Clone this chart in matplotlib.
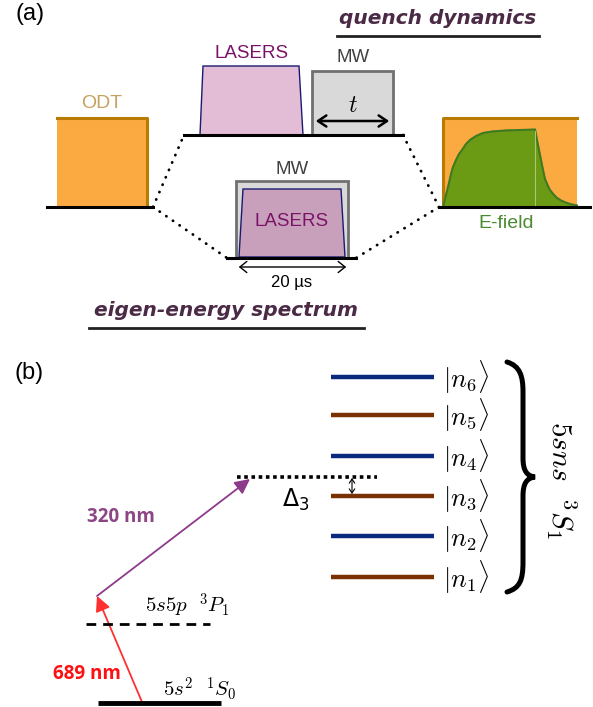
import matplotlib.pyplot as plt
from matplotlib.patches import Polygon, Rectangle, PathPatch, FancyArrowPatch
from matplotlib.path import Path

plt.rcParams['mathtext.fontset'] = 'cm'
plt.rcParams['font.family'] = ['Liberation Sans', 'DejaVu Sans']

# ---- panel (a): pulse sequence (pixel coordinates of the drawing) ----
odt_box = (57, 118, 147, 207)           # x0, y_top, x1, y_base
laser_top = [(200, 135), (203, 66), (299, 66), (303, 135)]
mw_top = (312, 71, 393, 135)
mw_mid = (236, 181, 348, 258)
laser_mid = [(239, 257), (243, 189), (341, 189), (345, 257)]
efield_box = (443, 118, 577, 207)

# E-field ramp (x, y)
efield_x = [443, 445, 447, 449, 451, 453, 456, 459, 462, 466, 470, 476, 483, 492, 505, 520, 535,
            536, 537, 539, 541, 543, 545, 548, 550, 554, 557, 562, 567, 572, 577]
efield_y = [207, 199, 191, 183, 174, 167, 160, 154, 150, 144, 140, 136, 133, 131.5, 130.5, 130, 129.5,
            134, 140, 150, 160, 170, 179, 186, 190, 195, 198, 201, 203, 204.5, 205.5]

baselines = [((47, 153), 207), ((184, 403), 135), ((227, 356), 258), ((439, 590), 207)]
dotted = [((153, 207), (184, 135)), ((153, 207), (227, 258)),
          ((403, 135), (439, 207)), ((439, 207), (356, 258))]

# ---- panel (b): level scheme ----
level_names = ['$|n_1\\rangle$', '$|n_2\\rangle$', '$|n_3\\rangle$',
               '$|n_4\\rangle$', '$|n_5\\rangle$', '$|n_6\\rangle$']
level_y = [577, 536, 496, 456, 415, 377]
level_colors = ['#7A3000', '#0A2A80', '#7A3000', '#0A2A80', '#7A3000', '#0A2A80']
ground_y, p1_y, virt_y = 703, 624, 477

fig = plt.figure(figsize=(5.93, 7.07), dpi=100)
ax = fig.add_axes([0, 0, 1, 1])
ax.set_xlim(0, 593)
ax.set_ylim(707, 0)
ax.axis('off')

orange, orange_edge = '#FBAA42', '#B87A00'
mw_fill, mw_edge = '#D9D9D9', '#707070'
laser_txt = '#7A1368'
title_col = '#4A2A45'

# ODT
x0, yt, x1, yb = odt_box
ax.add_patch(Rectangle((x0, yt), x1 - x0, yb - yt, fc=orange, ec='none', zorder=1))
ax.plot([x0, x1, x1], [yt, yt, yb], color=orange_edge, lw=2.2, zorder=2)
ax.text((x0 + x1) / 2, 103, 'ODT', color='#C8A060', fontsize=14, ha='center', va='center')

# top LASERS + MW
ax.add_patch(Polygon(laser_top, closed=True, fc='#E3BCD6', ec='#1A1A70', lw=1, zorder=2))
ax.text(252, 53, 'LASERS', color=laser_txt, fontsize=13.5, ha='center', va='center')
x0, yt, x1, yb = mw_top
ax.add_patch(Rectangle((x0, yt), x1 - x0, yb - yt, fc=mw_fill, ec=mw_edge, lw=2, zorder=2))
ax.text(353, 58, 'MW', color='#404040', fontsize=13.5, ha='center', va='center')
ax.add_patch(FancyArrowPatch((313, 121), (392, 121), arrowstyle='<->,head_length=6,head_width=4',
                             color='black', lw=1.8, mutation_scale=1, zorder=3))
ax.text(353, 106, '$t$', fontsize=17, ha='center', va='center')

ax.text(438, 18, 'quench dynamics', color=title_col, fontsize=14.5, fontweight='bold',
        style='italic', family='DejaVu Sans', ha='center', va='center')
ax.plot([337, 539], [36, 36], color='#222222', lw=2)

# middle MW + LASERS
x0, yt, x1, yb = mw_mid
ax.add_patch(Rectangle((x0, yt), x1 - x0, yb - yt, fc=mw_fill, ec=mw_edge, lw=2, zorder=2))
ax.add_patch(Polygon(laser_mid, closed=True, fc='#C9A0BC', ec='#1A1A70', lw=1, zorder=3))
ax.text(292, 169, 'MW', color='#404040', fontsize=13.5, ha='center', va='center')
ax.text(292, 222, 'LASERS', color=laser_txt, fontsize=13.5, ha='center', va='center', zorder=4)
ax.add_patch(FancyArrowPatch((236, 267), (349, 267), arrowstyle='<->,head_length=5,head_width=4',
                             color='black', lw=1, mutation_scale=1))
ax.text(292, 283, '20 µs', fontsize=12, ha='center', va='center')
ax.text(226, 311, 'eigen-energy spectrum', color=title_col, fontsize=14.5, fontweight='bold',
        style='italic', family='DejaVu Sans', ha='center', va='center')
ax.plot([89, 364], [328, 328], color='#222222', lw=2)

# E-field
x0, yt, x1, yb = efield_box
ax.add_patch(Rectangle((x0, yt), x1 - x0, yb - yt, fc=orange, ec='none', zorder=1))
ax.plot([x0, x0, x1], [yb, yt, yt], color=orange_edge, lw=2.2, zorder=2)
ax.fill(efield_x + [efield_x[0]], efield_y + [efield_y[0]], color='#6B9A14', zorder=2)
ax.plot(efield_x, efield_y, color='#3F7A22', lw=1.5, zorder=3)
ax.plot([535, 535], [131, 206], color='#A8C878', lw=0.8, zorder=3)
ax.text(506, 223, 'E-field', color='#4A8A30', fontsize=14, ha='center', va='center')

for (xa, xb), y in baselines:
    ax.plot([xa, xb], [y, y], color='black', lw=2.2, zorder=4)
for p, q in dotted:
    ax.plot([p[0], q[0]], [p[1], q[1]], color='black', lw=2, ls=(0, (0.1, 2.8)),
            dash_capstyle='round', zorder=4)

ax.text(30, 14, '(a)', fontsize=17, ha='center', va='center')

# ---- panel (b) ----
ax.text(29, 373, '(b)', fontsize=17, ha='center', va='center')
ax.plot([98, 221], [ground_y, ground_y], color='black', lw=3.5, solid_capstyle='butt')
ax.text(163, 689, '$5s^2\\ \\ ^1S_0$', fontsize=15, va='center', ha='left')
ax.plot([86, 210], [p1_y, p1_y], color='black', lw=2, ls=(0, (3.5, 2.5)))
ax.text(145, 606, '$5s5p\\ \\ ^3P_1$', fontsize=15, va='center', ha='left')
ax.add_patch(FancyArrowPatch((142, ground_y - 1), (97, 596), arrowstyle='-|>,head_length=9,head_width=4.5',
                             color='#FF3030', lw=1.3, mutation_scale=1, shrinkA=0, shrinkB=0))
ax.text(87, 674, '689 nm', color='#FF1010', fontsize=13.5, fontweight='bold',
        family='Open Sans', ha='center', va='center')
ax.add_patch(FancyArrowPatch((97, 596), (250, 479), arrowstyle='-|>,head_length=9,head_width=4.5',
                             color='#8E3A8A', lw=1.3, mutation_scale=1, shrinkA=0, shrinkB=0))
ax.text(121, 517, '320 nm', color='#8E4585', fontsize=13.5, fontweight='bold',
        family='Open Sans', ha='center', va='center')
ax.plot([237, 377], [virt_y, virt_y], color='black', lw=2.6, ls=(0, (1, 1)))
ax.text(296, 500, '$\\Delta_3$', fontsize=17, ha='center', va='center',
        math_fontfamily='dejavusans')
ax.add_patch(FancyArrowPatch((352, virt_y + 1), (352, level_y[2] - 2),
                             arrowstyle='<->,head_length=3,head_width=2',
                             color='black', lw=0.8, mutation_scale=1, shrinkA=0, shrinkB=0))

for name, y, c in zip(level_names, level_y, level_colors):
    ax.plot([331, 434], [y, y], color=c, lw=3.2, solid_capstyle='butt')
    ax.text(443, y, name, fontsize=19, ha='left', va='center')

# curly brace
verts = [(507, 362), (520, 366), (523, 376), (523, 392),
         (523, 458),
         (523, 471), (527, 476), (535, 477),
         (527, 478), (523, 483), (523, 496),
         (523, 562),
         (523, 580), (520, 588), (507, 592)]
codes = [Path.MOVETO, Path.CURVE4, Path.CURVE4, Path.CURVE4,
         Path.LINETO,
         Path.CURVE4, Path.CURVE4, Path.CURVE4,
         Path.CURVE4, Path.CURVE4, Path.CURVE4,
         Path.LINETO,
         Path.CURVE4, Path.CURVE4, Path.CURVE4]
ax.add_patch(PathPatch(Path(verts, codes), fc='none', ec='black', lw=3.6, capstyle='round'))
ax.text(561, 480, '$5sns\\ \\ ^3S_1$', fontsize=21, rotation=-90, ha='center', va='center')

fig.savefig('out.png', dpi=100)
